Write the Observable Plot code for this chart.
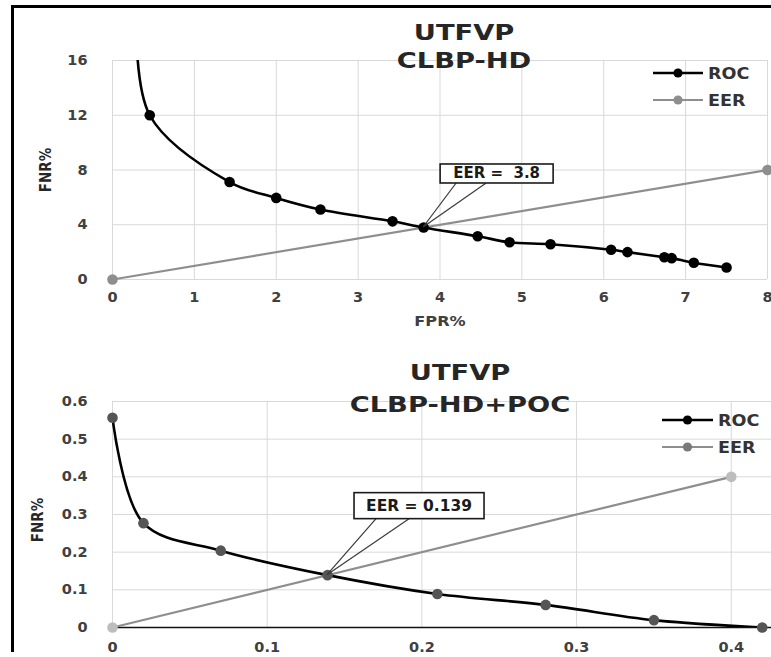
<!DOCTYPE html>
<html><head><meta charset="utf-8">
<script src="https://cdn.jsdelivr.net/npm/d3@7"></script>
<script src="https://cdn.jsdelivr.net/npm/@observablehq/plot@0.6"></script>
<style>
body{margin:0;background:#fff;}
#page{position:relative;width:771px;height:657px;overflow:hidden;background:#fff;font-family:"DejaVu Sans",sans-serif;}
.border{position:absolute;left:11px;top:5px;width:780px;height:644px;border-left:3px solid #000;border-top:3px solid #000;}
.title{position:absolute;width:320px;text-align:center;font:bold 22px/28px "DejaVu Sans",sans-serif;color:#262626;transform:scaleX(1.24);white-space:nowrap;}
.ylab{position:absolute;font:bold 15px "Liberation Sans Narrow","DejaVu Sans Condensed",sans-serif;color:#262626;transform:translate(-50%,-50%) rotate(-90deg);white-space:nowrap;}
.xlab{position:absolute;font:bold 14px "DejaVu Sans",sans-serif;color:#404040;transform:translate(-50%,-50%) scaleX(1.15);white-space:nowrap;}
.chart{position:absolute;left:0;}
</style></head><body><div id="page"><div class="border"></div></div>
<script>
// ---- data: top chart (UTFVP, CLBP-HD) ----
const topTitle = ["UTFVP", "CLBP-HD"];
const topRocFpr = [0.29, 0.455, 1.43, 2.0, 2.54, 3.42, 3.8, 4.46, 4.85, 5.35, 6.09, 6.29, 6.74, 6.83, 7.10, 7.50];
const topRocFnr = [20, 12.0, 7.12, 5.96, 5.11, 4.25, 3.8, 3.16, 2.72, 2.58, 2.17, 2.0, 1.63, 1.56, 1.22, 0.88];
const topEerFpr = [0, 8];
const topEerFnr = [0, 8];
const topEer = 3.8;
const topXTicks = [0, 1, 2, 3, 4, 5, 6, 7, 8];
const topYTicks = [0, 4, 8, 12, 16];

// ---- data: bottom chart (UTFVP, CLBP-HD+POC) ----
const botTitle = ["UTFVP", "CLBP-HD+POC"];
const botRocFpr = [0, 0.02, 0.07, 0.139, 0.21, 0.28, 0.35, 0.42];
const botRocFnr = [0.557, 0.277, 0.204, 0.139, 0.089, 0.060, 0.0195, 0];
const botEerFpr = [0, 0.4];
const botEerFnr = [0, 0.4];
const botEer = 0.139;
const botXTicks = [0, 0.1, 0.2, 0.3, 0.4];
const botYTicks = [0, 0.1, 0.2, 0.3, 0.4, 0.5, 0.6];

const seriesNames = ["ROC", "EER"];
const xLabel = "FPR%";
const yLabel = "FNR%";

const zip = (xs, ys) => xs.map((x, i) => ({fpr: x, fnr: ys[i]}));
const plainFormat = (d) => `${d}`;

function callout(xv, yv, label, g) {
  return (index, scales) => {
    const px = scales.x(xv), py = scales.y(yv);
    const sel = d3.create("svg:g");
    for (const dx of g.lineDx) {
      sel.append("line").attr("x1", px).attr("y1", py).attr("x2", px + dx).attr("y2", py + g.lineDy)
        .attr("stroke", "#3a3a3a").attr("stroke-width", 1.2);
    }
    sel.append("rect").attr("x", px + g.dx).attr("y", py + g.dy).attr("width", g.w).attr("height", g.h)
      .attr("fill", "#fff").attr("stroke", "#1a1a1a").attr("stroke-width", 1.6);
    sel.append("text").attr("x", px + g.dx + g.w / 2).attr("y", py + g.dy + g.h / 2)
      .attr("text-anchor", "middle").attr("dominant-baseline", "central")
      .attr("style", "white-space:pre").attr("font-size", g.fs).attr("font-weight", "bold")
      .attr("fill", "#1a1a1a").text(label);
    return sel.node();
  };
}

function makeChart(o) {
  const roc = zip(o.rocX, o.rocY);
  const eer = zip(o.eerX, o.eerY);
  const ymax = o.yDomain[1];
  return Plot.plot({
    width: 771, height: o.height,
    marginLeft: 112, marginRight: o.marginRight, marginTop: o.marginTop, marginBottom: o.marginBottom,
    x: {domain: o.xDomain},
    y: {domain: o.yDomain},
    style: {fontFamily: "DejaVu Sans, sans-serif", fontSize: "14.5px", fontWeight: "bold", color: "#404040", background: "transparent", overflow: "visible"},
    marks: [
      Plot.gridX(o.xTicks, {stroke: "#d9d9d9", strokeOpacity: 1, strokeWidth: 1}),
      Plot.gridY(o.yTicks, {stroke: "#d9d9d9", strokeOpacity: 1, strokeWidth: 1}),
      o.axisLine ? Plot.ruleY([0], {stroke: "#111", strokeWidth: 1.6}) : null,
      Plot.axisX({ticks: o.xTicks, tickFormat: plainFormat, tickSize: 0, tickPadding: o.xPad, label: null}),
      Plot.axisY({ticks: o.yTicks, tickFormat: plainFormat, tickSize: 0, tickPadding: 25, label: null}),
      Plot.line(eer, {x: "fpr", y: "fnr", stroke: "#8e8e8e", strokeWidth: 2.2}),
      Plot.line(roc, {x: "fpr", y: "fnr", stroke: "#000", strokeWidth: 2.6, curve: "catmull-rom", clip: true}),
      Plot.dot(roc, {x: "fpr", y: "fnr", r: 5.3, fill: o.rocDot, stroke: "none", filter: (d) => d.fnr <= ymax}),
      Plot.dot(eer, {x: "fpr", y: "fnr", r: 5.3, fill: o.eerDot, stroke: "none"}),
      callout(o.eer, o.eer, o.eerLabel, o.box)
    ]
  });
}

const page = document.getElementById("page");

function addChart(o) {
  const wrap = document.createElement("div");
  wrap.className = "chart";
  wrap.style.top = o.top + "px";
  wrap.appendChild(makeChart(o));
  page.appendChild(wrap);
  o.title.forEach((t, i) => {
    const d = document.createElement("div");
    d.className = "title";
    d.textContent = t;
    d.style.left = (o.titleX - 160) + "px";
    d.style.top = (o.titleY[i] - 14) + "px";
    page.appendChild(d);
  });
  const yl = document.createElement("div");
  yl.className = "ylab"; yl.textContent = yLabel;
  yl.style.left = o.yLabPos[0] + "px"; yl.style.top = o.yLabPos[1] + "px";
  page.appendChild(yl);
  if (o.xLabPos) {
    const xl = document.createElement("div");
    xl.className = "xlab"; xl.textContent = xLabel;
    xl.style.left = o.xLabPos[0] + "px"; xl.style.top = o.xLabPos[1] + "px";
    page.appendChild(xl);
  }
  const L = o.legend;
  const colors = [["#000", "#000"], ["#8e8e8e", o.legendEerDot]];
  let svg = `<svg width="130" height="${L.gap + 24}" style="position:absolute;left:${L.x - 2}px;top:${L.y - 12}px;overflow:visible">`;
  seriesNames.forEach((name, i) => {
    const yy = 12 + i * L.gap;
    svg += `<line x1="2" x2="${2 + L.len}" y1="${yy}" y2="${yy}" stroke="${colors[i][0]}" stroke-width="${i ? 2.2 : 2.6}"/>`;
    svg += `<circle cx="${2 + L.len / 2}" cy="${yy}" r="4.6" fill="${colors[i][1]}"/>`;
    svg += `<text x="${L.len + 7}" y="${yy}" dominant-baseline="central" font-family="DejaVu Sans, sans-serif" font-weight="bold" font-size="16" fill="#333" transform="translate(${L.len + 7} ${yy}) scale(1.1 1) translate(${-(L.len + 7)} ${-yy})">${name}</text>`;
  });
  svg += `</svg>`;
  const lg = document.createElement("div");
  lg.innerHTML = svg;
  page.appendChild(lg.firstChild);
}

addChart({
  top: 0, height: 330, marginTop: 60, marginBottom: 51, marginRight: 4,
  xDomain: [0, 8], yDomain: [0, 16], xTicks: topXTicks, yTicks: topYTicks, xPad: 12,
  rocX: topRocFpr, rocY: topRocFnr, eerX: topEerFpr, eerY: topEerFnr,
  rocDot: "#000", eerDot: "#8e8e8e", legendEerDot: "#8e8e8e", axisLine: false,
  eer: topEer, eerLabel: `EER =  ${topEer}`,
  box: {dx: 17, dy: -63, w: 113, h: 19, lineDx: [33, 63], lineDy: -44, fs: 15},
  title: topTitle, titleX: 464, titleY: [33, 60.5],
  yLabPos: [46, 170], xLabPos: [440, 321],
  legend: {x: 653, y: 73, len: 50, gap: 27}
});

addChart({
  top: 330, height: 327, marginTop: 71, marginBottom: 30, marginRight: 0,
  xDomain: [0, 0.426], yDomain: [0, 0.6], xTicks: botXTicks, yTicks: botYTicks, xPad: 14,
  rocX: botRocFpr, rocY: botRocFnr, eerX: botEerFpr, eerY: botEerFnr,
  rocDot: "#555", eerDot: "#bdbdbd", legendEerDot: "#7a7a7a", axisLine: true,
  eer: botEer, eerLabel: `EER = ${botEer}`,
  box: {dx: 27, dy: -82, w: 130, h: 26, lineDx: [49, 82], lineDy: -56, fs: 15.5},
  title: botTitle, titleX: 460, titleY: [373, 405],
  yLabPos: [38, 520], xLabPos: null,
  legend: {x: 662, y: 420, len: 51, gap: 27}
});
</script></body></html>
